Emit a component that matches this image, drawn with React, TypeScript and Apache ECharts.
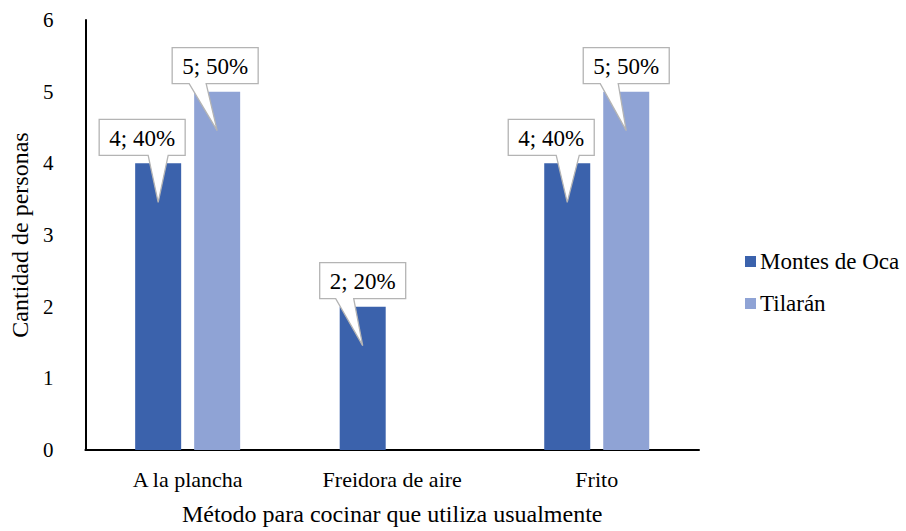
import React, { useEffect, useRef } from "react";
import * as echarts from "echarts";

const categories = ["A la plancha", "Freidora de aire", "Frito"];
const montesDeOca = [4, 2, 4];
const tilaran: (number | null)[] = [5, null, 5];
const montesPct = [40, 20, 40];
const tilaranPct: (number | null)[] = [50, null, 50];
const yTicks = [0, 1, 2, 3, 4, 5, 6];

const FONT = "Liberation Serif";
const C_MONTES = "#3B62AC";
const C_TILARAN = "#8FA3D5";
const BAR_W = 46;
const BAR_GAP = 13;

// callout geometry (pixels, relative to bar centre)
const montesShape = [
  { dx: -16, bl: -10, br: 10 },
  { dx: 0, bl: -27, br: -9 },
  { dx: -16, bl: -11, br: 12 },
];
const tilaranShape = [
  { dx: -2, bl: -28, br: -11 },
  { dx: 0, bl: -27, br: -9 },
  { dx: 0, bl: -26, br: -8 },
];

function calloutSeries(values: (number | null)[], pcts: (number | null)[], offset: number, shapes: any[]) {
  const data: any[] = [];
  values.forEach((v, i) => {
    if (v !== null && v !== undefined) data.push([i, v, pcts[i]]);
  });
  return {
    type: "custom",
    coordinateSystem: "cartesian2d",
    encode: { x: 0, y: 1 },
    z: 10,
    clip: false,
    silent: true,
    data,
    renderItem: (params: any, api: any) => {
      const idx = api.value(0);
      const v = api.value(1);
      const p = api.value(2);
      const pt = api.coord([idx, v]);
      const cx = pt[0] + offset;
      const ty = pt[1];
      const s = shapes[idx];
      const bw = 86;
      const bh = 36;
      const bcx = cx + s.dx;
      const bottom = ty - 8;
      const top = bottom - bh;
      const tipY = ty + 39;
      const points = [
        [bcx - bw / 2, top],
        [bcx + bw / 2, top],
        [bcx + bw / 2, bottom],
        [cx + s.br, bottom],
        [cx, tipY],
        [cx + s.bl, bottom],
        [bcx - bw / 2, bottom],
      ];
      return {
        type: "group",
        children: [
          {
            type: "polygon",
            shape: { points },
            style: { fill: "#FFFFFF", stroke: "#B4B4B4", lineWidth: 1.3 },
          },
          {
            type: "text",
            x: bcx,
            y: top + bh / 2 + 1,
            style: {
              text: `${v}; ${p}%`,
              fill: "#000000",
              fontFamily: FONT,
              fontSize: 23,
              align: "center",
              verticalAlign: "middle",
            },
          },
        ],
      };
    },
  };
}

export default function App() {
  const ref = useRef<HTMLDivElement>(null);
  useEffect(() => {
    if (!ref.current) return;
    const chart = echarts.init(ref.current, null, { renderer: "svg" });
    const half = (BAR_W + BAR_GAP) / 2;
    chart.setOption({
      animation: false,
      backgroundColor: "#FFFFFF",
      textStyle: { fontFamily: FONT },
      grid: { left: 77, right: 207, top: 20, bottom: 81, containLabel: false },
      legend: {
        data: ["Montes de Oca", "Tilarán"],
        orient: "vertical",
        left: 740,
        top: 245,
        itemWidth: 11,
        itemHeight: 11,
        itemGap: 19,
        icon: "rect",
        textStyle: { fontFamily: FONT, fontSize: 23, color: "#000", padding: [0, 0, 0, -1] },
      },
      xAxis: {
        type: "category",
        data: categories,
        name: "Método para cocinar que utiliza usualmente",
        nameLocation: "middle",
        nameGap: 52,
        nameTextStyle: { fontFamily: FONT, fontSize: 24, color: "#000" },
        axisLine: { show: true, lineStyle: { color: "#000", width: 2 } },
        axisTick: { show: false },
        axisLabel: { fontFamily: FONT, fontSize: 22, color: "#000", margin: 18 },
        splitLine: { show: false },
      },
      yAxis: {
        type: "value",
        min: yTicks[0],
        max: yTicks[yTicks.length - 1],
        interval: 1,
        name: "Cantidad de personas",
        nameLocation: "middle",
        nameGap: 51,
        nameTextStyle: { fontFamily: FONT, fontSize: 24, color: "#000" },
        axisLine: { show: true, lineStyle: { color: "#000", width: 2 } },
        axisTick: { show: false },
        axisLabel: { fontFamily: FONT, fontSize: 21, color: "#000", margin: 32 },
        splitLine: { show: false },
      },
      series: [
        {
          name: "Montes de Oca",
          type: "bar",
          data: montesDeOca,
          barWidth: BAR_W,
          barGap: `${(BAR_GAP / BAR_W) * 100}%`,
          itemStyle: { color: C_MONTES },
        },
        {
          name: "Tilarán",
          type: "bar",
          data: tilaran,
          barWidth: BAR_W,
          barGap: `${(BAR_GAP / BAR_W) * 100}%`,
          itemStyle: { color: C_TILARAN },
        },
        calloutSeries(montesDeOca, montesPct, -half, montesShape),
        calloutSeries(tilaran, tilaranPct, half, tilaranShape),
      ],
    });
    return () => chart.dispose();
  }, []);
  return <div ref={ref} style={{ position: "fixed", left: 0, top: 0, width: 906, height: 531 }} />;
}
